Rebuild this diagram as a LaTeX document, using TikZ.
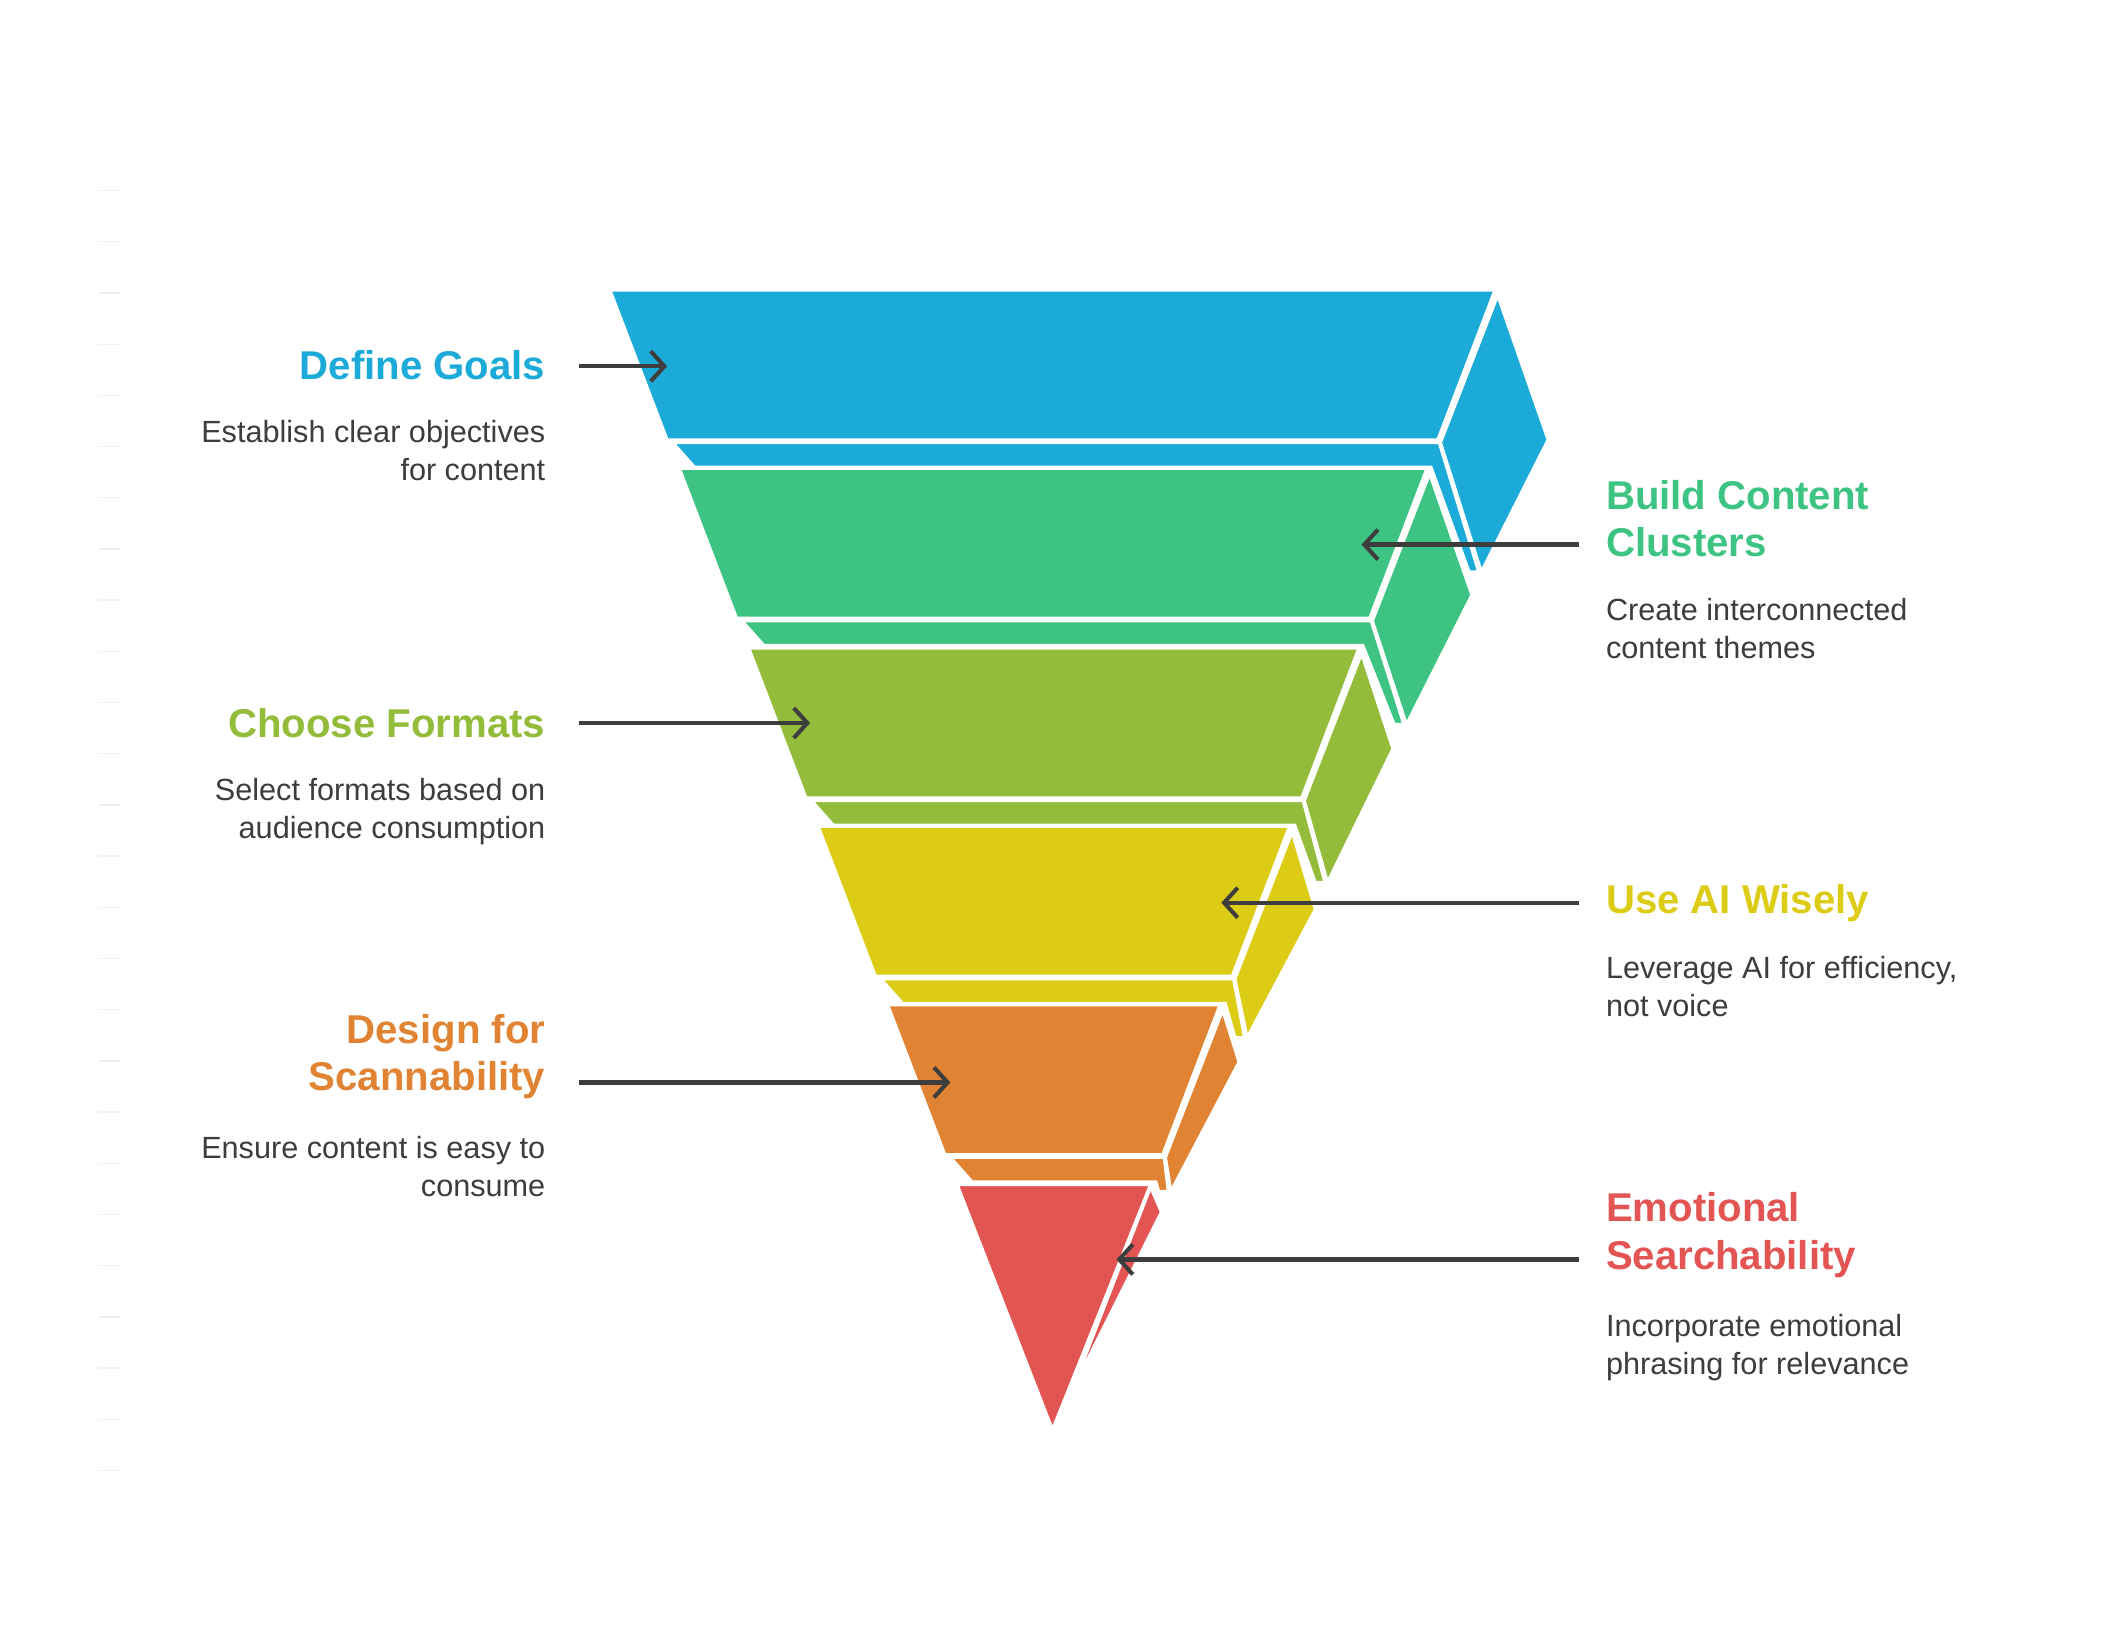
\documentclass[tikz,border=0pt]{standalone}
\usepackage{fontspec}
\setmainfont{Liberation Sans}
\usetikzlibrary{arrows.meta}
\definecolor{cblue}{HTML}{1CABD9}
\definecolor{cgreen}{HTML}{3DC482}
\definecolor{clime}{HTML}{92BC3A}
\definecolor{cyel}{HTML}{DCCC16}
\definecolor{corange}{HTML}{E08433}
\definecolor{cred}{HTML}{E35553}
\definecolor{ctxt}{HTML}{3D3D3D}
\tikzset{
 face/.style={draw=white,line width=2.2pt,line join=miter},
 ttl/.style={font=\bfseries\fontsize{29.5}{35}\selectfont,align=left},
 ttlL/.style={ttl,anchor=east,align=right},
 ttlR/.style={ttl,anchor=west,align=left},
 bodyL/.style={font=\fontsize{22.5}{28}\selectfont,text=ctxt,anchor=north east,align=right},
 bodyR/.style={font=\fontsize{22.5}{28}\selectfont,text=ctxt,anchor=north west,align=left},
 conn/.style={draw=ctxt,line width=3.2pt,-{Straight Barb[length=10pt,width=22pt,line width=3pt]}},
}
\newcommand{\layer}[8]{% a b t color sdx sdy bdx bdy
 \pgfmathsetmacro\la{#1}\pgfmathsetmacro\lb{#2}\pgfmathsetmacro\lt{#3}
 \fill[#4,face] (\lb+2,\lt+4) -- (\lb+#5,\lt+#6) -- (\lb-#7,\lt+#8) -- (\lb-40,\lt+112) -- cycle;
 \fill[#4,face] (\la+46,\lt+112) -- (\lb-41,\lt+112) -- (\lb-#7-2,\lt+#8) -- (\lb-#7-9,\lt+#8) -- (\lb-47,\lt+130) -- (\la+62,\lt+130) -- cycle;
 \fill[#4,face] (\la,\lt) -- (\lb,\lt) -- (\lb-42,\lt+110) -- (\la+42,\lt+110) -- cycle;
}
\begin{document}
\begin{tikzpicture}[x=1pt,y=-1pt]
\useasboundingbox (0,0) rectangle (1560,1200);
\fill[white] (0,0) rectangle (1560,1200);
\foreach \i in {0,...,25} \draw[black!6,line width=1pt] (72,140+37.6*\i) -- (88,140+37.6*\i);
\layer{448}{1098}{213}{cblue}{39}{110}{10}{207}
\layer{499}{1048}{344}{cgreen}{33}{93}{15}{188}
\layer{550}{998}{476}{clime}{25}{74}{23}{172}
\layer{601}{947}{607}{cyel}{19}{61}{31}{155}
\layer{652}{896}{738}{corange}{14}{42}{36}{137}
\fill[cred,face] (845,872) -- (853,890) -- (787,1022) -- cycle;
\fill[cred,face] (703,870) -- (845,870) -- (773,1050) -- cycle;
% texts
\node[ttlL,text=cblue] (t1) at (404,268) {Define Goals};
\node[bodyL] (b1) at (404,305) {Establish clear objectives\\for content};
\node[ttlR,text=cgreen] (t2) at (1176,381) {Build Content\\Clusters};
\node[bodyR] (b2) at (1176,436) {Create interconnected\\content themes};
\node[ttlL,text=clime] (t3) at (404,531) {Choose Formats};
\node[bodyL] (b3) at (404,568) {Select formats based on\\audience consumption};
\node[ttlR,text=cyel] (t4) at (1176,663) {Use AI Wisely};
\node[bodyR] (b4) at (1176,699) {Leverage AI for efficiency,\\not voice};
\node[ttlL,text=corange] (t5) at (404,776) {Design for\\Scannability};
\node[bodyL] (b5) at (404,831) {Ensure content is easy to\\consume};
\node[ttlR,text=cred] (t6) at (1176,907) {Emotional\\Searchability};
\node[bodyR] (b6) at (1176,962) {Incorporate emotional\\phrasing for relevance};
% arrows
\coordinate (s1) at (425,269); \coordinate (e1) at (490,269);
\coordinate (s2) at (1160,400); \coordinate (e2) at (1000,400);
\coordinate (s3) at (425,531); \coordinate (e3) at (595,531);
\coordinate (s4) at (1160,663); \coordinate (e4) at (897,663);
\coordinate (s5) at (425,795); \coordinate (e5) at (698,795);
\coordinate (s6) at (1160,925); \coordinate (e6) at (820,925);
\foreach \k in {1,...,6} \draw[conn] (s\k) -- (e\k);
\end{tikzpicture}
\end{document}
